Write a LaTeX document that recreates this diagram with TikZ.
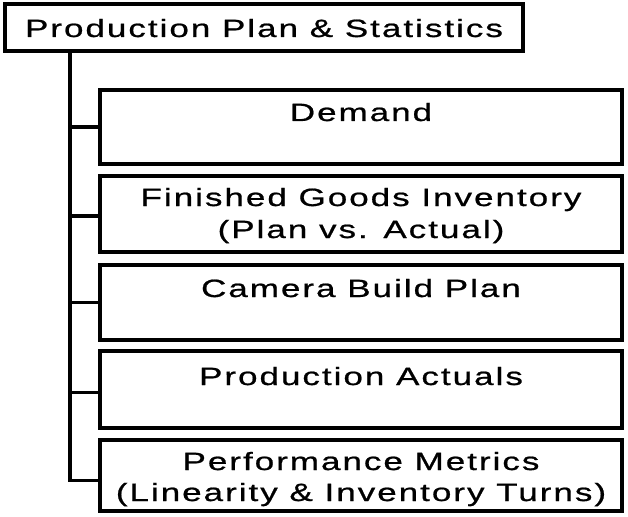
\documentclass[tikz,border=0pt]{standalone}
\usepackage{fontspec}
\setmainfont{Liberation Sans}
\newfontfamily\widefont[FakeStretch=1.4,LetterSpace=8,FakeBold=0.8]{Liberation Sans}
\begin{document}
\begin{tikzpicture}[x=1pt,y=-1pt,
  box/.style={draw,line width=3.2pt,rectangle,inner sep=0pt},
  lbl/.style={font=\widefont\fontsize{25}{30}\selectfont,inner sep=0pt,anchor=base},
  conn/.style={line width=3.2pt}]
\useasboundingbox (0,0) rectangle (628,516);
% boxes
\node[box,minimum width=518pt,minimum height=47pt] (title) at (264,27.5) {};
\node[box,minimum width=522pt,minimum height=74pt] (demand) at (361,127) {};
\node[box,minimum width=522pt,minimum height=76pt] (fg) at (361,214) {};
\node[box,minimum width=522pt,minimum height=75pt] (camera) at (361,302.5) {};
\node[box,minimum width=522pt,minimum height=77pt] (pa) at (361,389.5) {};
\node[box,minimum width=522pt,minimum height=71pt] (pm) at (361,475.5) {};
% labels
\node[lbl] (titlet) at (264,37) {Production Plan \& Statistics};
\node[lbl] (demandt) at (361,121) {Demand};
\node[lbl] (fgt1) at (361,206) {Finished Goods Inventory};
\node[lbl] (fgt2) at (361,238) {(Plan vs. Actual)};
\node[lbl] (camerat) at (361,297) {Camera Build Plan};
\node[lbl] (pat) at (361,385) {Production Actuals};
\node[lbl] (pmt1) at (361,470) {Performance Metrics};
\node[lbl] (pmt2) at (361,501) {(Linearity \& Inventory Turns)};
% connectors
\coordinate (trunk) at (70,51);
\coordinate (demandin) at (demand.west);
\coordinate (fgin) at ([yshift=-2pt]fg.west);
\coordinate (camerain) at (camera.west);
\coordinate (pain) at ([yshift=-3pt]pa.west);
\coordinate (pmin) at ([yshift=-5pt]pm.west);
\draw[conn] (title.south -| trunk) -- (trunk |- pmin) -- (pmin);
\draw[conn] (trunk |- demandin) -- (demandin);
\draw[conn] (trunk |- fgin) -- (fgin);
\draw[conn] (trunk |- camerain) -- (camerain);
\draw[conn] (trunk |- pain) -- (pain);
\end{tikzpicture}
\end{document}
